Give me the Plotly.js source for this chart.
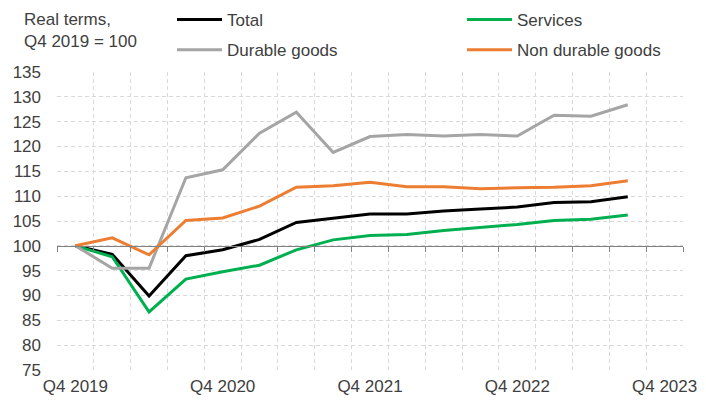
<!DOCTYPE html>
<html>
<head>
<meta charset="utf-8">
<script src="https://cdn.plot.ly/plotly-3.0.1.min.js"></script>
<style>
  html, body { margin: 0; padding: 0; background: #ffffff; }
  #chart { width: 706px; height: 406px; }
</style>
</head>
<body>
<div id="chart"></div>
<script>
// ---- Data ----
const quarters = ['Q4 2019','Q1 2020','Q2 2020','Q3 2020','Q4 2020','Q1 2021','Q2 2021','Q3 2021',
                  'Q4 2021','Q1 2022','Q2 2022','Q3 2022','Q4 2022','Q1 2023','Q2 2023','Q3 2023','Q4 2023'];
const dataQuarters = quarters.slice(0, 16);
const labelQuarters = ['Q4 2019','Q4 2020','Q4 2021','Q4 2022','Q4 2023'];

const total      = [100, 98.3, 89.9, 98.0, 99.2, 101.3, 104.7, 105.5, 106.4, 106.4, 107.0, 107.4, 107.8, 108.7, 108.9, 109.9];
const services   = [100, 97.8, 86.7, 93.3, 94.8, 96.1, 99.2, 101.2, 102.1, 102.3, 103.1, 103.7, 104.3, 105.1, 105.35, 106.2];
const durable    = [100, 95.5, 95.5, 113.7, 115.3, 122.7, 126.9, 118.8, 122.0, 122.4, 122.1, 122.4, 122.1, 126.3, 126.1, 128.4];
const nondurable = [100, 101.6, 98.2, 105.1, 105.6, 108.0, 111.8, 112.1, 112.8, 111.9, 111.9, 111.5, 111.7, 111.8, 112.1, 113.1];

const seriesNames = ['Total', 'Services', 'Durable goods', 'Non durable goods'];
const yMin = 75, yMax = 135, yStep = 5, baseLevel = 100;
const noteText = 'Real terms,<br>Q4 2019 = 100';

// ---- Styling ----
const FONT = 'Liberation Sans, Arial, sans-serif';
const TXT = '#404040';
const GRID = '#d9d9d9';
const AXIS = '#808080';
const W = 706, H = 406;
const M = { l: 57, r: 23, t: 72, b: 36 };
const PW = W - M.l - M.r, PH = H - M.t - M.b;
// convert page pixel position to paper coordinates (layout positions only)
const px = v => (v - M.l) / PW;
const py = v => (H - M.b - v) / PH;

const TICKLEN = 5;
const LABEL_GAP = 6;                                   // gap below plot bottom
const axisFrac = (baseLevel - yMin) / (yMax - yMin);   // category axis crosses at 100
const xLabelStandoff = Math.round(LABEL_GAP + PH * axisFrac - TICKLEN);

function line(name, y, color, legend, group) {
  return {
    type: 'scatter', mode: 'lines', name: name,
    x: dataQuarters, y: y,
    line: { color: color, width: 3 },
    legend: legend, legendgroup: group,
    hoverinfo: 'skip'
  };
}

const traces = [
  line(seriesNames[0], total,      '#000000', 'legend',  'g1'),
  line(seriesNames[1], services,   '#00B050', 'legend2', 'g2'),
  line(seriesNames[2], durable,    '#A5A5A5', 'legend',  'g3'),
  line(seriesNames[3], nondurable, '#ED7D31', 'legend2', 'g4')
];

const xRange = [-0.5, quarters.length - 0.5];
const tickText = quarters.map(q => labelQuarters.includes(q) ? q : '');

const legendCommon = {
  xref: 'paper', yref: 'paper',
  xanchor: 'left', yanchor: 'top',
  orientation: 'v',
  bgcolor: 'rgba(0,0,0,0)',
  font: { family: FONT, size: 17, color: TXT },
  itemwidth: 45,
  tracegroupgap: 5,
  traceorder: 'grouped'
};

const layout = {
  width: W, height: H,
  margin: { l: M.l, r: M.r, t: M.t, b: M.b, pad: 0, autoexpand: false },
  paper_bgcolor: '#ffffff', plot_bgcolor: '#ffffff',
  font: { family: FONT, size: 17, color: TXT },
  showlegend: true,
  legend:  Object.assign({}, legendCommon, { x: px(172), y: py(2) }),
  legend2: Object.assign({}, legendCommon, { x: px(462), y: py(2) }),
  xaxis: {
    type: 'category',
    categoryorder: 'array', categoryarray: quarters,
    range: xRange,
    anchor: 'free', position: axisFrac,
    tickmode: 'array', tickvals: quarters, ticktext: tickText,
    tickson: 'boundaries',
    tickangle: 0,
    ticks: 'outside', ticklen: TICKLEN, tickwidth: 1, tickcolor: AXIS,
    ticklabelstandoff: xLabelStandoff,
    showline: true, linecolor: AXIS, linewidth: 1,
    zeroline: false,
    showgrid: true, gridcolor: GRID, gridwidth: 1, griddash: '4px,3px',
    tickfont: { family: FONT, size: 17, color: TXT },
    fixedrange: true
  },
  yaxis: {
    range: [yMin, yMax],
    tick0: yMin, dtick: yStep,
    ticks: '',
    showline: false, zeroline: false,
    showgrid: true, gridcolor: GRID, gridwidth: 1, griddash: '4px,3px',
    tickfont: { family: FONT, size: 17, color: TXT },
    ticklabelstandoff: 15,
    fixedrange: true
  },
  annotations: [{
    xref: 'paper', yref: 'paper',
    x: px(22), y: py(8),
    xanchor: 'left', yanchor: 'top', align: 'left',
    showarrow: false,
    text: noteText,
    font: { family: FONT, size: 17, color: TXT }
  }]
};

Plotly.newPlot('chart', traces, layout, { displayModeBar: false, staticPlot: true });
</script>
</body>
</html>
